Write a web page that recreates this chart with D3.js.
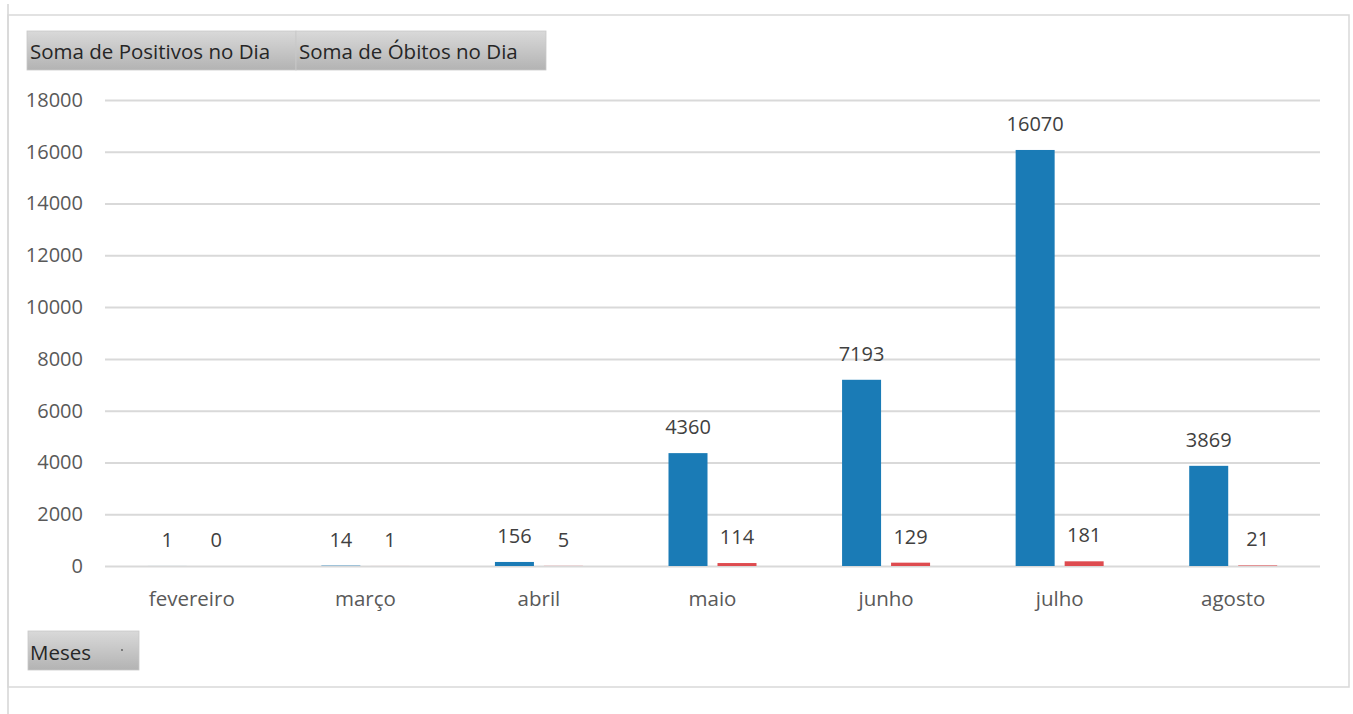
<!DOCTYPE html>
<html>
<head>
<meta charset="utf-8">
<script src="https://cdn.jsdelivr.net/npm/d3@7"></script>
<style>
  body { margin: 0; background: #fff; }
  svg text { font-family: "Open Sans", "Noto Sans", sans-serif; }
</style>
</head>
<body>
<div id="chart"></div>
<script>
var months = ["fevereiro", "março", "abril", "maio", "junho", "julho", "agosto"];
var positivos = [1, 14, 156, 4360, 7193, 16070, 3869];
var obitos = [0, 1, 5, 114, 129, 181, 21];
var yTicks = [0, 2000, 4000, 6000, 8000, 10000, 12000, 14000, 16000, 18000];
var seriesNames = ["Soma de Positivos no Dia", "Soma de Óbitos no Dia"];
var seriesColors = ["#1a7bb6", "#de4b4f"];

var W = 1353, H = 714;
var margin = {left: 105, right: 33, top: 100, bottom: 148};

var svg = d3.select("#chart").append("svg")
  .attr("width", W)
  .attr("height", H);

var defs = svg.append("defs");
var grad = defs.append("linearGradient").attr("id", "btn").attr("x1", 0).attr("y1", 0).attr("x2", 0).attr("y2", 1);
grad.append("stop").attr("offset", "0%").attr("stop-color", "#d9d9d9");
grad.append("stop").attr("offset", "100%").attr("stop-color", "#b3b3b3");

// frame
svg.append("line").attr("x1", 8).attr("x2", 8).attr("y1", 4).attr("y2", H)
  .attr("stroke", "#d4d4d4").attr("stroke-width", 1.5);
svg.append("rect").attr("x", 8).attr("y", 15).attr("width", 1341).attr("height", 672)
  .attr("fill", "none").attr("stroke", "#d9d9d9").attr("stroke-width", 1.5);

var x = d3.scaleBand()
  .domain(months)
  .range([margin.left, W - margin.right])
  .paddingInner(0)
  .paddingOuter(0);

var y = d3.scaleLinear()
  .domain([0, 18000])
  .range([H - margin.bottom, margin.top]);

var yAxis = d3.axisLeft(y).tickValues(yTicks).tickFormat(d3.format("d"))
  .tickSize(-(W - margin.left - margin.right)).tickPadding(22);
var gy = svg.append("g").attr("transform", "translate(" + margin.left + ",0)").call(yAxis);
gy.select(".domain").remove();
gy.selectAll(".tick line").attr("stroke", "#d9d9d9").attr("stroke-width", 2);
gy.selectAll(".tick text").attr("fill", "#595959").style("font-size", "20px");

var xAxis = d3.axisBottom(x).tickSize(0).tickPadding(25);
var gx = svg.append("g").attr("transform", "translate(0," + (H - margin.bottom) + ")").call(xAxis);
gx.select(".domain").remove();
gx.selectAll(".tick text").attr("fill", "#595959").style("font-size", "20.5px");

var barW = 39, gap = 10;
var sub = d3.scaleOrdinal().domain([0, 1]).range([-(barW + gap / 2), gap / 2]);

var series = [positivos, obitos];
series.forEach(function(vals, si) {
  var g = svg.append("g");
  g.selectAll("rect").data(vals).enter().append("rect")
    .attr("x", function(d, i) { return x(months[i]) + x.bandwidth() / 2 + sub(si); })
    .attr("y", function(d) { return y(d); })
    .attr("width", barW)
    .attr("height", function(d) { return y(0) - y(d); })
    .attr("fill", seriesColors[si]);
  g.selectAll("text").data(vals).enter().append("text")
    .attr("x", function(d, i) { return x(months[i]) + x.bandwidth() / 2 + sub(si) + barW / 2; })
    .attr("y", function(d) { return y(d) - 19; })
    .attr("text-anchor", "middle")
    .attr("fill", "#404040")
    .style("font-size", "20px")
    .text(function(d) { return d; });
});

// field buttons
var btns = [{x: 27, w: 269, t: seriesNames[0]}, {x: 296, w: 250, t: seriesNames[1]}];
btns.forEach(function(b) {
  svg.append("rect").attr("x", b.x).attr("y", 31).attr("width", b.w).attr("height", 39)
    .attr("fill", "url(#btn)").attr("stroke", "#c8c8c8").attr("stroke-width", 0.8);
  svg.append("text").attr("x", b.x + 3).attr("y", 59).attr("fill", "#262626")
    .style("font-size", "20.5px").text(b.t);
});
svg.append("rect").attr("x", 28).attr("y", 631).attr("width", 111).attr("height", 39)
  .attr("fill", "url(#btn)").attr("stroke", "#c8c8c8").attr("stroke-width", 0.8);
svg.append("text").attr("x", 30).attr("y", 660).attr("fill", "#262626")
  .style("font-size", "20.5px").text("Meses");
svg.append("circle").attr("cx", 122).attr("cy", 650).attr("r", 0.9).attr("fill", "#555");
</script>
</body>
</html>
